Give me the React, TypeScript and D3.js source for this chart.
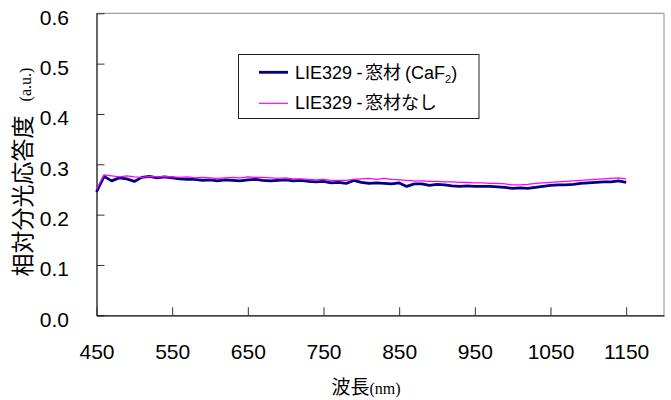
import React, { useEffect, useRef } from 'react';
import * as d3 from 'd3';

// wavelength (nm), 10 nm step
const wavelengths = d3.range(450, 1151, 10);

const withWindow = [
  0.245, 0.276, 0.267, 0.273, 0.271, 0.266, 0.274, 0.276, 0.273, 0.275,
  0.273, 0.271, 0.270, 0.270, 0.268, 0.269, 0.267, 0.269, 0.268, 0.267,
  0.269, 0.270, 0.268, 0.267, 0.268, 0.269, 0.267, 0.268, 0.266, 0.265,
  0.266, 0.263, 0.264, 0.262, 0.268, 0.264, 0.262, 0.263, 0.262, 0.261,
  0.263, 0.256, 0.261, 0.261, 0.258, 0.260, 0.259, 0.257, 0.256, 0.257,
  0.256, 0.256, 0.256, 0.255, 0.254, 0.252, 0.253, 0.252, 0.254, 0.256,
  0.258, 0.259, 0.259, 0.260, 0.262, 0.263, 0.264, 0.265, 0.265, 0.267,
  0.264,
];

const noWindow = [
  0.250, 0.279, 0.277, 0.275, 0.277, 0.275, 0.274, 0.276, 0.275, 0.276,
  0.275, 0.274, 0.275, 0.273, 0.274, 0.273, 0.272, 0.273, 0.274, 0.273,
  0.275, 0.274, 0.274, 0.273, 0.272, 0.273, 0.271, 0.271, 0.270, 0.269,
  0.270, 0.268, 0.268, 0.268, 0.270, 0.271, 0.272, 0.270, 0.272, 0.270,
  0.269, 0.268, 0.267, 0.267, 0.266, 0.266, 0.265, 0.265, 0.264, 0.264,
  0.263, 0.263, 0.262, 0.262, 0.261, 0.259, 0.259, 0.260, 0.262, 0.263,
  0.264, 0.265, 0.266, 0.267, 0.268, 0.269, 0.270, 0.271, 0.272, 0.273,
  0.271,
];

const xTicks = [450, 550, 650, 750, 850, 950, 1050, 1150];
const yTicks = [0, 0.1, 0.2, 0.3, 0.4, 0.5, 0.6];

const SANS = "Arial, 'Liberation Sans', sans-serif";
const CJK = "'Noto Sans CJK JP', sans-serif";
const SERIF = "'Times New Roman', 'Liberation Serif', serif";

const App = () => {
  const ref = useRef<SVGSVGElement | null>(null);

  useEffect(() => {
    const plot = { left: 96.5, right: 664, top: 13.3, bottom: 315.3 };
    const svg = d3.select(ref.current);
    svg.selectAll('*').remove();

    const x = d3.scaleLinear().domain([450, 1200]).range([plot.left, plot.right]);
    const y = d3.scaleLinear().domain([0, 0.6]).range([plot.bottom, plot.top]);

    // frame: top / right gray, axes black
    svg.append('line')
      .attr('x1', plot.left).attr('x2', plot.right)
      .attr('y1', plot.top).attr('y2', plot.top)
      .attr('stroke', '#a0a0a0').attr('stroke-width', 1.2);
    svg.append('line')
      .attr('x1', plot.right).attr('x2', plot.right)
      .attr('y1', plot.top).attr('y2', plot.bottom)
      .attr('stroke', '#a0a0a0').attr('stroke-width', 1.2);

    const yAxis = svg.append('g')
      .attr('transform', `translate(${plot.left},0)`)
      .call(d3.axisLeft(y).tickValues(yTicks).tickFormat(d3.format('.1f'))
        .tickSizeInner(-8).tickSizeOuter(0).tickPadding(27.5));
    yAxis.select('.domain').attr('stroke', '#000').attr('stroke-width', 1.2);
    yAxis.selectAll('.tick line').attr('stroke', '#333');
    yAxis.selectAll('.tick text')
      .attr('dy', '0.52em')
      .attr('fill', '#000')
      .style('font-family', SANS)
      .style('font-size', '21px');

    const xAxis = svg.append('g')
      .attr('transform', `translate(0,${plot.bottom})`)
      .call(d3.axisBottom(x).tickValues(xTicks).tickFormat(d3.format('d'))
        .tickSizeInner(-8).tickSizeOuter(0).tickPadding(29));
    xAxis.select('.domain').attr('stroke', '#000').attr('stroke-width', 1.2);
    xAxis.selectAll('.tick line').attr('stroke', '#333');
    xAxis.selectAll('.tick text')
      .attr('fill', '#000')
      .style('font-family', SANS)
      .style('font-size', '21px');

    const line = d3.line<number>()
      .x((_, i) => x(wavelengths[i]))
      .y(d => y(d));

    svg.append('path')
      .datum(withWindow)
      .attr('d', line)
      .attr('fill', 'none')
      .attr('stroke', '#000080')
      .attr('stroke-width', 2.8)
      .attr('stroke-linejoin', 'round');

    svg.append('path')
      .datum(noWindow)
      .attr('d', line)
      .attr('fill', 'none')
      .attr('stroke', '#ff00ff')
      .attr('stroke-width', 1.2)
      .attr('stroke-linejoin', 'round');

    // legend
    const lg = svg.append('g');
    lg.append('rect')
      .attr('x', 238.5).attr('y', 54.5)
      .attr('width', 240.5).attr('height', 64)
      .attr('fill', '#fff').attr('stroke', '#222').attr('stroke-width', 1);

    const entries = [
      { color: '#000080', width: 2.8, y: 72.3, base: 78.6, tail: 'CaF' },
      { color: '#ff00ff', width: 1.2, y: 103.3, base: 109.4, tail: null },
    ];
    entries.forEach(e => {
      lg.append('line')
        .attr('x1', 259).attr('x2', 288)
        .attr('y1', e.y).attr('y2', e.y)
        .attr('stroke', e.color).attr('stroke-width', e.width);
      const t = lg.append('text')
        .attr('y', e.base)
        .attr('fill', '#000')
        .style('font-size', '18px');
      t.append('tspan').attr('x', 295).style('font-family', SANS).text('LIE329');
      t.append('tspan').attr('x', 356.5).style('font-family', SANS).text('-');
      if (e.tail) {
        t.append('tspan').attr('x', 365).style('font-family', CJK).text('窓材');
        t.append('tspan').attr('x', 405).style('font-family', SANS).text('(CaF');
        t.append('tspan').style('font-family', SANS).style('font-size', '11px')
          .attr('dy', 4).text('2');
        t.append('tspan').style('font-family', SANS).attr('dy', -4).text(')');
      } else {
        t.append('tspan').attr('x', 365).style('font-family', CJK).text('窓材なし');
      }
    });

    // y axis title
    const yt = svg.append('text')
      .attr('transform', 'translate(31,172) rotate(-90)')
      .attr('text-anchor', 'middle')
      .attr('fill', '#000');
    yt.append('tspan').style('font-family', CJK).style('font-size', '23px').text('相対分光応答度');
    yt.append('tspan').attr('dx', 14).style('font-family', SERIF).style('font-size', '16px').text('(a.u.)');

    // x axis title
    const xt = svg.append('text')
      .attr('x', 366).attr('y', 394)
      .attr('text-anchor', 'middle')
      .attr('fill', '#000');
    xt.append('tspan').style('font-family', CJK).style('font-size', '19px').text('波長');
    xt.append('tspan').style('font-family', SERIF).style('font-size', '16px').text('(nm)');
  }, []);

  return (
    <svg
      ref={ref}
      width={671}
      height={400}
      style={{ position: 'absolute', left: 0, top: 0, background: '#fff' }}
    />
  );
};

export default App;
